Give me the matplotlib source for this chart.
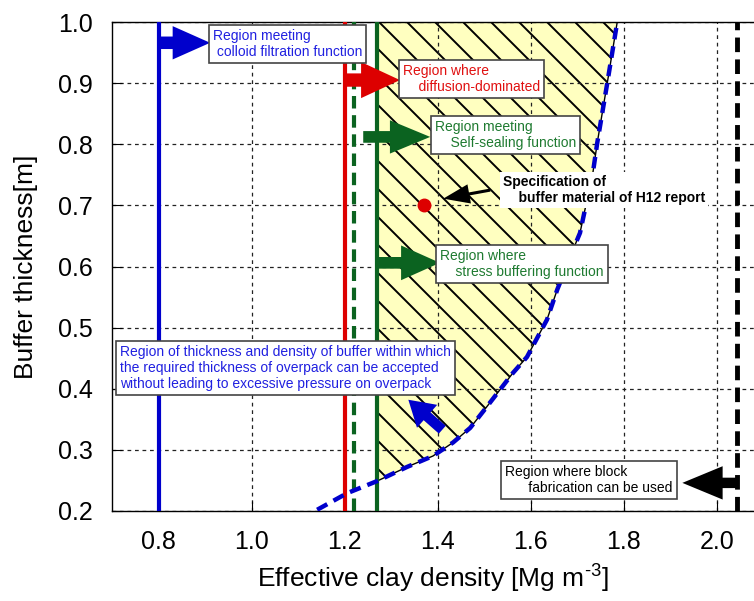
import matplotlib.pyplot as plt
import numpy as np
from matplotlib.patches import Polygon
from matplotlib.collections import LineCollection
from matplotlib.ticker import FormatStrFormatter

plt.rcParams['font.family'] = ['Liberation Sans', 'DejaVu Sans']
plt.rcParams['mathtext.fontset'] = 'custom'
plt.rcParams['mathtext.rm'] = 'Liberation Sans'
plt.rcParams['mathtext.default'] = 'regular'

# boundaries of the design regions (effective clay density, Mg m-3)
colloid_limit = 0.80
diffusion_limit = 1.20
selfseal_limit = 1.22
stress_limit = 1.27
block_limit = 2.044

# overpack pressure limit curve
curve_x = [1.141, 1.205, 1.270, 1.334, 1.390, 1.433, 1.470, 1.500, 1.562, 1.592,
           1.635, 1.657, 1.700, 1.706, 1.734, 1.743, 1.765, 1.786]
curve_y = [0.202, 0.229, 0.249, 0.272, 0.290, 0.312, 0.336, 0.365, 0.426, 0.452,
           0.513, 0.562, 0.644, 0.655, 0.755, 0.802, 0.902, 1.000]

# H12 reference specification
h12_density = 1.37
h12_thickness = 0.70

x_ticks = [0.8, 1.0, 1.2, 1.4, 1.6, 1.8, 2.0]
y_ticks = [0.2, 0.3, 0.4, 0.5, 0.6, 0.7, 0.8, 0.9, 1.0]

blue = '#0000CC'
red = '#DD0000'
green = '#0B6320'
tblue = '#2020E0'
tred = '#E01010'
tgreen = '#1E7A30'

fig = plt.figure(figsize=(7.54, 6.01), dpi=100)
ax = fig.add_axes([112 / 754, 90 / 601, 642 / 754, 489 / 601])
ax.set_xlim(0.7, 2.08)
ax.set_ylim(0.2, 1.0)

# hatched region
cx = np.array(curve_x)
cy = np.array(curve_y)
y_start = np.interp(stress_limit, cx, cy)
keep = cx > stress_limit
px = np.concatenate([[stress_limit, stress_limit], cx[keep]])
py = np.concatenate([[1.0, y_start], cy[keep]])
poly = Polygon(np.column_stack([px, py]), closed=True, facecolor='#FFFFC0',
               edgecolor='black', lw=1.0, zorder=1)
ax.add_patch(poly)

r = 642 / 489
step = 28 / 642
segs = [[(u0, 1.0), (u0 + 1 / r, 0.0)] for u0 in np.arange(-1 / r, 1.0, step)]
hatch = LineCollection(segs, colors='black', linewidths=1.4,
                       transform=ax.transAxes, zorder=1.2)
ax.add_collection(hatch)
hatch.set_clip_path(poly)

ax.set_axisbelow('line')
ax.grid(True, color='#222222', lw=0.9, linestyle=(0, (3, 3)))

# boundary lines
ax.axvline(colloid_limit, color=blue, lw=3, zorder=3)
ax.axvline(diffusion_limit, color=red, lw=3, zorder=3)
ax.axvline(selfseal_limit, color=green, lw=3, linestyle=(0, (3, 1.6)), zorder=3)
ax.axvline(stress_limit, color=green, lw=3, zorder=3)
ax.axvline(block_limit, color='black', lw=3.5, linestyle=(0, (3, 1.5)), zorder=3)
ax.plot(curve_x, curve_y, color=blue, lw=3.2, linestyle=(0, (2.6, 1.6)), zorder=3)
ax.plot(h12_density, h12_thickness, 'o', color=red, ms=9, zorder=4)


def block_arrow(x0, y0, x1, y1, color, hl, hw, tw):
    ax.annotate('', xy=(x1, y1), xytext=(x0, y0),
                arrowprops=dict(arrowstyle=f'simple,head_length={hl},head_width={hw},tail_width={tw}',
                                mutation_scale=1, color=color, shrinkA=0, shrinkB=0, lw=0),
                zorder=4)


block_arrow(colloid_limit, 0.966, 0.911, 0.966, blue, 27, 24, 9)
block_arrow(diffusion_limit, 0.905, 1.319, 0.905, red, 28, 26, 9.6)
block_arrow(1.24, 0.812, 1.384, 0.812, green, 29, 24, 8.4)
block_arrow(stress_limit, 0.606, 1.405, 0.606, green, 28, 25, 8.4)
block_arrow(1.513, 0.725, 1.412, 0.711, 'black', 19, 14, 2.2)
block_arrow(1.41, 0.333, 1.337, 0.382, blue, 18, 22, 7.5)
block_arrow(block_limit, 0.246, 1.926, 0.246, 'black', 29, 24, 7.5)

box = dict(boxstyle='square,pad=0.3', facecolor='white', edgecolor='#444444', lw=1.2)
fs = 10
ax.text(0.917, 0.964, 'Region meeting\n colloid filtration function', color=tblue,
        fontsize=fs, va='center', ha='left', bbox=box, zorder=5)
ax.text(1.325, 0.907, 'Region where\n    diffusion-dominated', color=tred,
        fontsize=fs, va='center', ha='left', bbox=box, zorder=5)
ax.text(1.394, 0.815, 'Region meeting\n    Self-sealing function', color=tgreen,
        fontsize=fs, va='center', ha='left', bbox=box, zorder=5)
ax.text(1.405, 0.604, 'Region where\n    stress buffering function', color=tgreen,
        fontsize=fs, va='center', ha='left', bbox=box, zorder=5)
ax.text(0.717, 0.434, 'Region of thickness and density of buffer within which\n'
        'the required thickness of overpack can be accepted\n'
        'without leading to excessive pressure on overpack', color=tblue,
        fontsize=fs, va='center', ha='left', bbox=box, zorder=5)
ax.text(1.545, 0.251, 'Region where block\n      fabrication can be used', color='black',
        fontsize=fs, va='center', ha='left', bbox=box, zorder=5)
ax.text(1.541, 0.725, 'Specification of\n    buffer material of H12 report', color='black',
        fontsize=fs, fontweight='bold', va='center', ha='left',
        bbox=dict(boxstyle='square,pad=0.2', facecolor='white', edgecolor='none'), zorder=5)

ax.set_xticks(x_ticks)
ax.set_yticks(y_ticks)
ax.xaxis.set_major_formatter(FormatStrFormatter('%.1f'))
ax.yaxis.set_major_formatter(FormatStrFormatter('%.1f'))
ax.tick_params(direction='in', length=7, labelsize=18, pad=14)
ax.spines['right'].set_visible(False)
for s in ['left', 'top', 'bottom']:
    ax.spines[s].set_linewidth(1.0)

ax.set_xlabel(r'Effective clay density [Mg m$^{\text{-3}}$]', fontsize=19, labelpad=6)
ax.set_ylabel('Buffer thickness[m]', fontsize=19, labelpad=14)

fig.savefig('out.png', dpi=100)
